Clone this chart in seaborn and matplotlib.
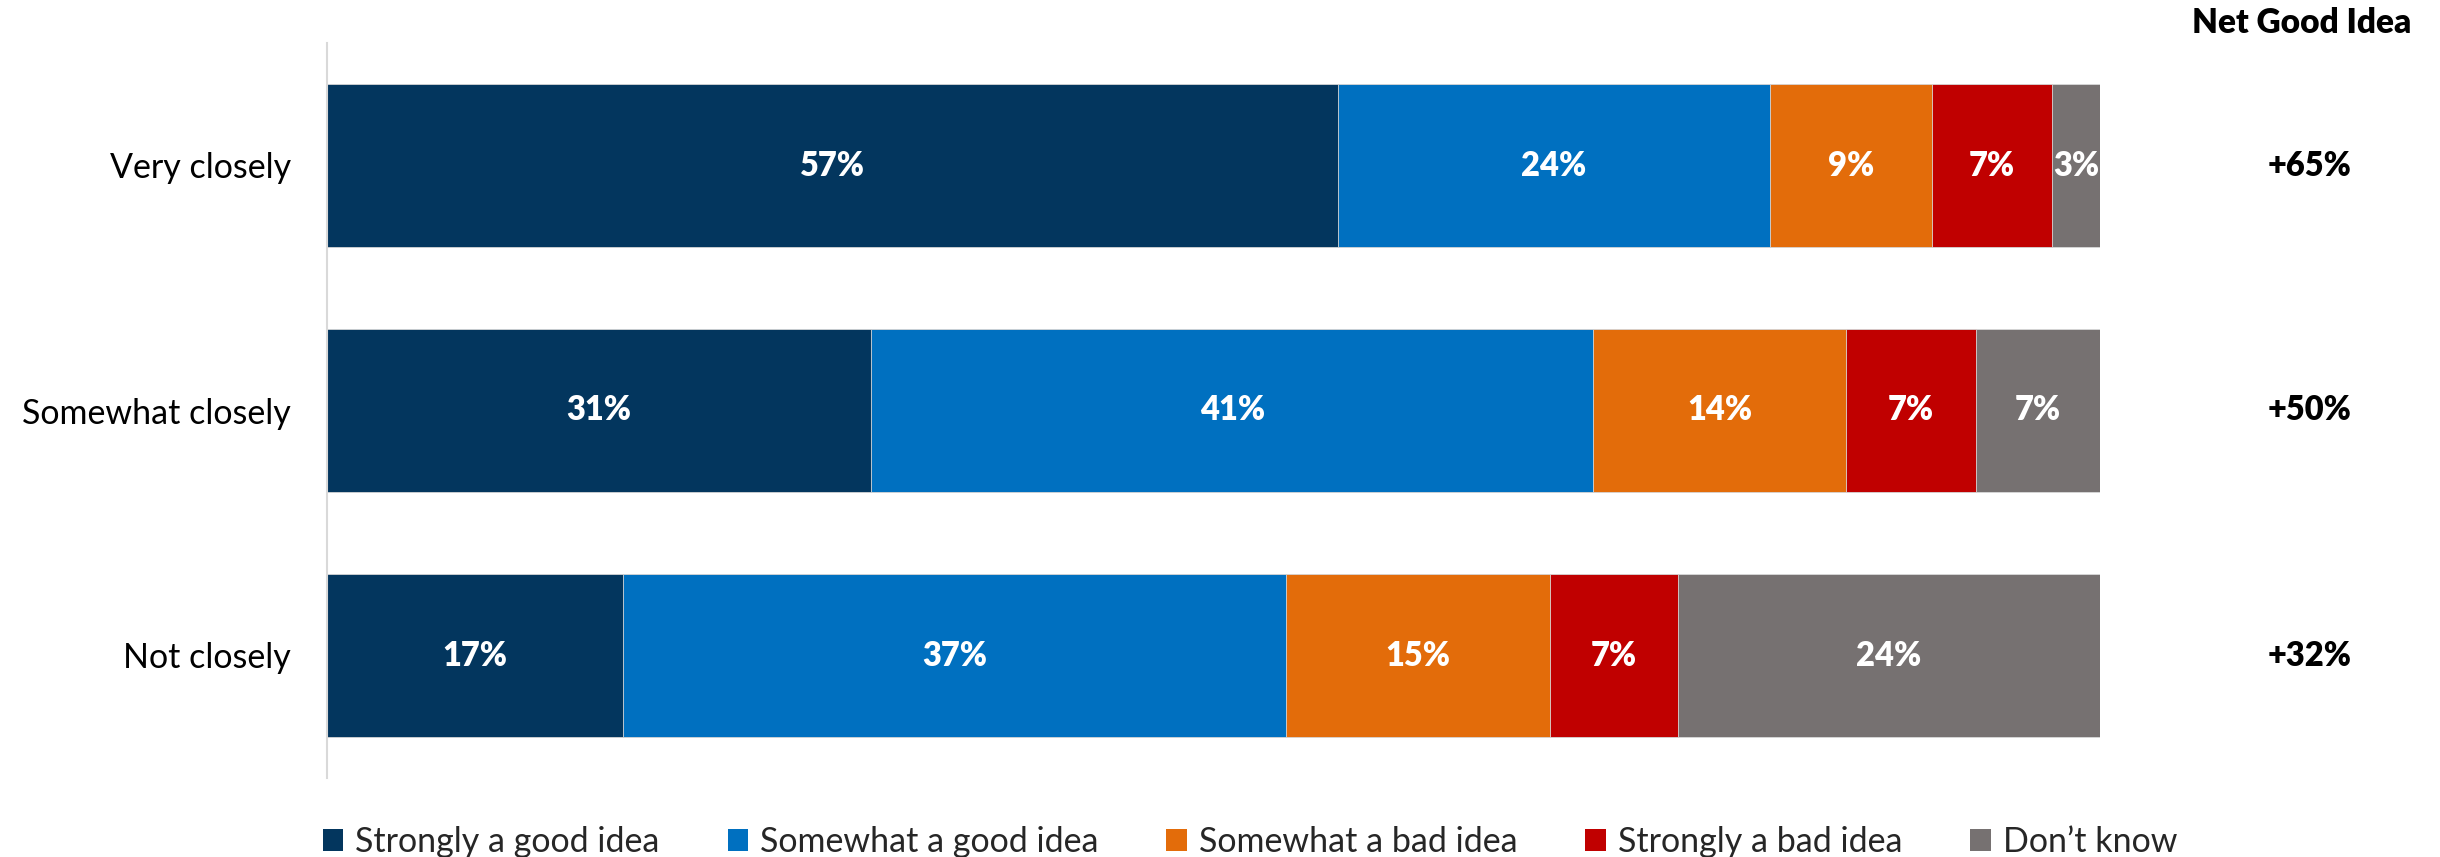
import matplotlib
matplotlib.use("Agg")
import matplotlib.pyplot as plt
import seaborn as sns
import pandas as pd
import numpy as np
from matplotlib.patches import Patch

categories = ["Very closely", "Somewhat closely", "Not closely"]
series_names = ["Strongly a good idea", "Somewhat a good idea", "Somewhat a bad idea",
                "Strongly a bad idea", "Don\u2019t know"]
# segment widths (labels show rounded values)
strong_good = [57.0, 30.7, 16.7]
somewhat_good = [24.4, 40.7, 37.4]
somewhat_bad = [9.1, 14.3, 14.9]
strong_bad = [6.8, 7.3, 7.2]
dont_know = [2.7, 7.0, 23.8]
net_good = ["+65%", "+50%", "+32%"]
net_header = "Net Good Idea"

colors = ["#03365E", "#0070C0", "#E36C0A", "#C00000", "#767171"]

sns.set_theme(style="white")
plt.rcParams['font.family'] = ['Lato', 'DejaVu Sans']

fig = plt.figure(figsize=(24.4, 8.57), dpi=100)
ax = fig.add_axes([327/2440, 1-778/857, (2100-327)/2440, (778-43)/857])

series = [strong_good, somewhat_good, somewhat_bad, strong_bad, dont_know]
cum = np.cumsum(np.array(series, dtype=float), axis=0)

# draw from outermost cumulative to innermost
for k in range(len(series)-1, -1, -1):
    df = pd.DataFrame({"cat": categories, "val": cum[k]})
    sns.barplot(data=df, x="val", y="cat", orient="h", color=colors[k],
                saturation=1, width=0.667, edgecolor="#D9D9D9", linewidth=0.6, ax=ax)

for k in range(len(series)):
    for i, cat in enumerate(categories):
        v = series[k][i]
        xc = cum[k][i] - v/2
        ax.text(xc, i, f"{int(v + 0.5)}%", ha="center", va="center", color="white",
                fontsize=23.5, fontweight="heavy")

for i, s in enumerate(net_good):
    ax.text(111.8, i, s, ha="center", va="center", color="black",
            fontsize=23.5, fontweight="heavy", clip_on=False)
ax.text(111.4, -0.58, net_header, ha="center", va="center", color="black",
        fontsize=24, fontweight="heavy", clip_on=False)

ax.set_xlim(0, 100)
ax.set_ylim(2.5, -0.5)
ax.set_xlabel("")
ax.set_ylabel("")
ax.set_xticks([])
ax.tick_params(axis="y", length=0, pad=26, labelsize=24.5, labelcolor="black")
for side in ["top", "right", "bottom"]:
    ax.spines[side].set_visible(False)
ax.spines["left"].set_color("#D9D9D9")
ax.spines["left"].set_linewidth(1.5)

handles = [Patch(facecolor=c, edgecolor="none") for c in colors]
fig.legend(handles, series_names, loc="center", bbox_to_anchor=(1250/2440, 1-842/857),
           ncol=5, frameon=False, fontsize=24.5, handlelength=0.6, handleheight=0.6,
           handletextpad=0.35, columnspacing=2.0)

fig.savefig("out.png", dpi=100, facecolor="white")
